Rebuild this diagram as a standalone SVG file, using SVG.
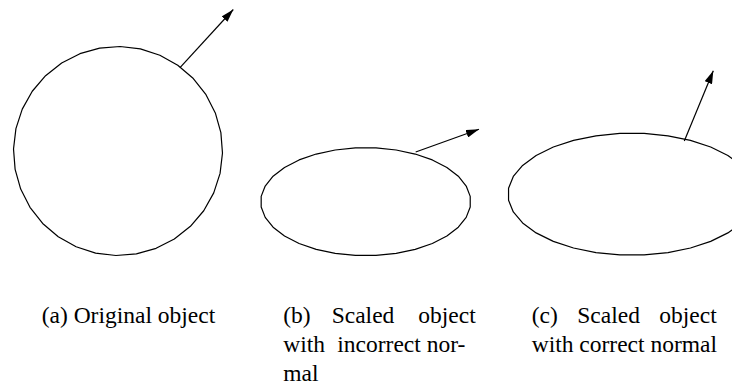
<svg xmlns="http://www.w3.org/2000/svg" xmlns:xlink="http://www.w3.org/1999/xlink" width="732" height="385" viewBox="0 0 732 385">
<style>
.shape{fill:none;stroke:#000;stroke-width:1.2;vector-effect:non-scaling-stroke;stroke-linejoin:round}
.arrow{fill:none;stroke:#000;stroke-width:1.2}
text{font-family:'Liberation Serif','Times New Roman',serif;font-size:23.5px;fill:#000}
</style>
<defs>
<marker id="ah" markerUnits="userSpaceOnUse" viewBox="0 0 13 8" refX="13" refY="4" markerWidth="13" markerHeight="8" orient="auto">
<path d="M0,0 L13,4 L0,8 z" fill="#000"/>
</marker>
<polygon id="poly" class="shape" points="104,10.24 100,30.33 92.16,49.26 80.78,66.29 66.29,80.78 49.26,92.16 30.33,100 10.24,104 -10.24,104 -30.33,100 -49.26,92.16 -66.29,80.78 -80.78,66.29 -92.16,49.26 -100,30.33 -104,10.24 -104,-10.24 -100,-30.33 -92.16,-49.26 -80.78,-66.29 -66.29,-80.78 -49.26,-92.16 -30.33,-100 -10.24,-104 10.24,-104 30.33,-100 49.26,-92.16 66.29,-80.78 80.78,-66.29 92.16,-49.26 100,-30.33 104,-10.24"/>
</defs>
<rect width="732" height="385" fill="#fff"/>
<g id="node-a">
<use xlink:href="#poly" href="#poly" transform="translate(118,151) rotate(-4.5)"/>
<text x="41.7" y="322.5">(a) Original object</text>
</g>
<g id="node-b">
<use xlink:href="#poly" href="#poly" transform="translate(365.7,201.7) scale(1.005,0.517)"/>
<text y="322.5"><tspan x="283.3">(b)</tspan><tspan x="331.7">Scaled</tspan><tspan x="418.3">object</tspan></text>
<text y="352"><tspan x="283.3">with</tspan><tspan x="337.3">incorrect</tspan><tspan x="426.7">nor-</tspan></text>
<text x="283.3" y="381">mal</text>
</g>
<g id="node-c">
<use xlink:href="#poly" href="#poly" transform="translate(632,194.2) scale(1.187,0.584)"/>
<text y="322.5"><tspan x="531.7">(c)</tspan><tspan x="577.3">Scaled</tspan><tspan x="659.3">object</tspan></text>
<text x="531.7" y="352">with correct normal</text>
</g>
<g id="connectors">
<line class="arrow" x1="180" y1="67.7" x2="233.3" y2="9.5" marker-end="url(#ah)"/>
<line class="arrow" x1="415.7" y1="152" x2="479" y2="129.3" marker-end="url(#ah)"/>
<line class="arrow" x1="684.3" y1="141" x2="713.3" y2="70.7" marker-end="url(#ah)"/>
</g>
</svg>
